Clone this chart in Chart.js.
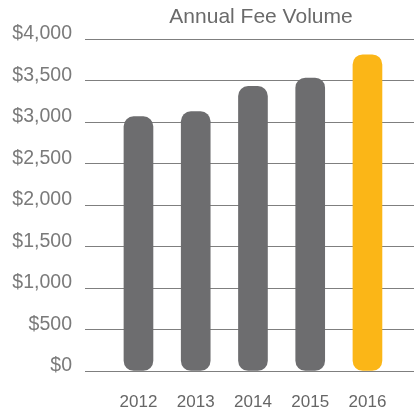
<!DOCTYPE html>
<html>
<head>
<meta charset="utf-8">
<script src="https://cdn.jsdelivr.net/npm/chart.js@4.4.1/dist/chart.umd.min.js"></script>
<style>
html,body{margin:0;padding:0;background:#fff;}
#wrap{width:414px;height:410px;position:relative;}
</style>
</head>
<body>
<div id="wrap"><canvas id="chart"></canvas></div>
<script>
// data
var YEARS = ['2012', '2013', '2014', '2015', '2016'];
var FEES = [3065, 3125, 3430, 3530, 3810];
var BAR_COLORS = ['#6d6d6f', '#6d6d6f', '#6d6d6f', '#6d6d6f', '#fbb617'];
var TITLE = 'Annual Fee Volume';

var FONT = '"Liberation Sans", Arial, sans-serif';

var puntos = new Array();
for (var i = 0; i < YEARS.length; i++) {
	puntos.push({x: i, y: FEES[i]});
}

// title sits over the bars, not the canvas centre
var tituloPlugin = {
	id: 'tituloPlugin',
	afterDraw: function(chart){
		var ctx = chart.ctx;
		ctx.save();
		ctx.font = '21px ' + FONT;
		ctx.fillStyle = '#6a6a6a';
		ctx.textAlign = 'center';
		ctx.textBaseline = 'middle';
		ctx.fillText(TITLE, chart.chartArea.left + 176, 17);
		ctx.restore();
	}
};

var config = {
	type: 'bar',
	data: {
		datasets: [{
			data: puntos,
			backgroundColor: BAR_COLORS,
			barThickness: 29,
			borderRadius: 10,
			borderSkipped: false
		}]
	},
	options: {
		responsive: true,
		maintainAspectRatio: false,
		animation: false,
		layout: {padding: {top: 39, right: 0, left: 0, bottom: 0}},
		plugins: {
			legend: {display: false},
			tooltip: {enabled: false},
			title: {display: false}
		},
		scales: {
			x: {
				type: 'linear',
				offset: false,
				min: -0.934,
				max: 4.813,
				grid: {display: false, drawTicks: false, offset: false},
				border: {display: false},
				afterBuildTicks: function(axis){
					axis.ticks = YEARS.map(function(y, i){ return {value: i}; });
				},
				afterFit: function(axis){ axis.height = 39; },
				ticks: {
					padding: 21,
					color: '#666666',
					font: {family: FONT, size: 17},
					callback: function(v){ return YEARS[v]; }
				}
			},
			y: {
				min: 0,
				max: 4000,
				grid: {color: '#7f7f7f', lineWidth: 1, drawTicks: false},
				border: {display: false},
				afterFit: function(axis){ axis.width = 85; },
				ticks: {
					stepSize: 500,
					padding: 13,
					labelOffset: -5,
					color: '#7a7a7a',
					font: {family: FONT, size: 19.5},
					callback: function(v){ return '$' + v.toLocaleString('en-US'); }
				}
			}
		}
	},
	plugins: [tituloPlugin]
};

new Chart(document.getElementById('chart').getContext('2d'), config);
</script>
</body>
</html>
